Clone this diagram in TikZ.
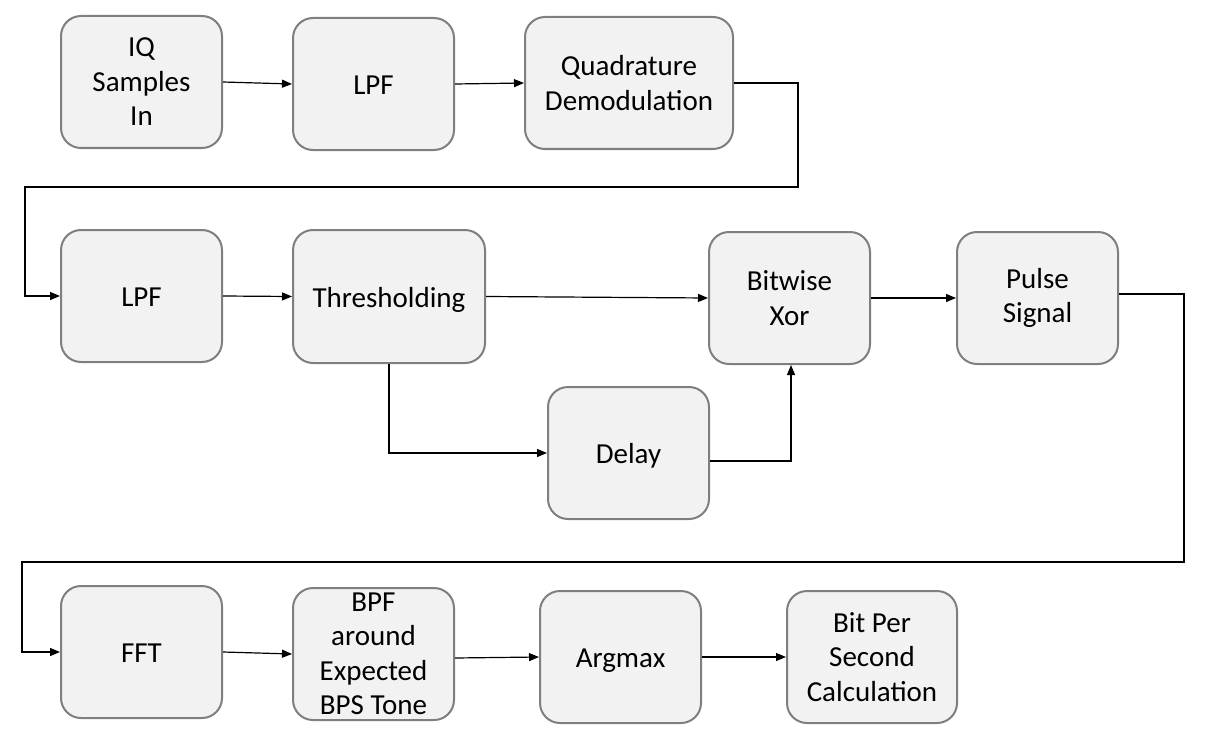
\documentclass[tikz,border=0pt]{standalone}
\usepackage{fontspec}
\setmainfont{Carlito}
\usetikzlibrary{arrows.meta,calc}
\definecolor{boxfill}{HTML}{F2F2F2}
\definecolor{boxline}{HTML}{7F7F7F}
\tikzset{
  blk/.style={draw=boxline, fill=boxfill, line width=2pt, rounded corners=20pt,
    minimum width=161pt, minimum height=132pt, inner sep=0pt, align=center,
    font=\fontsize{29}{34.5}\selectfont},
  oneline/.style={text height=21pt, text depth=0pt},
  conn/.style={draw=black, line width=1.2pt, -{Triangle[length=10pt,width=8pt]}},
}
\begin{document}
\begin{tikzpicture}[x=1pt,y=-1pt]
\useasboundingbox (0,0) rectangle (1215,749);
\node[blk] (iq) at (141.5,82) {IQ\\Samples\\In};
\node[blk, oneline] (lpf1) at (373.5,84) {LPF};
\node[blk, minimum width=208pt] (qd) at (629,83) {Quadrature\\Demodulation};
\node[blk, oneline] (lpf2) at (141.5,296) {LPF};
\node[blk, oneline, minimum width=192pt, minimum height=133pt] (thr) at (389,296.5) {Thresholding};
\node[blk] (xor) at (789.5,298) {Bitwise\\Xor};
\node[blk] (pulse) at (1037.5,298) {Pulse\\Signal};
\node[blk, oneline] (delay) at (628.5,453) {Delay};
\node[blk, oneline] (fft) at (141.5,652) {FFT};
\node[blk] (bpf) at (373.5,654) {BPF\\around\\Expected\\BPS Tone};
\node[blk, oneline] (argmax) at (620.5,657) {Argmax};
\node[blk, minimum width=170pt] (bps) at (872,657) {Bit Per\\Second\\Calculation};
\coordinate (k1) at (798,187);
\coordinate (k2) at (25,187);
\coordinate (k3) at (1184,562);
\coordinate (k4) at (22,562);
\draw[conn] (iq.east) -- (lpf1.west);
\draw[conn] (lpf1.east) -- (qd.west);
\draw[conn] (qd.east) -| (k1) -- (k2) |- (lpf2.west);
\draw[conn] (lpf2.east) -- (thr.west);
\draw[conn] (thr.east) -- (xor.west);
\draw[conn] (xor.east) -- (pulse.west);
\draw[conn] (thr.south) |- (delay.west);
\draw[conn] ([yshift=-8pt]delay.east) -| ([xshift=1.5pt]xor.south);
\draw[conn] ([yshift=4pt]pulse.east) -| (k3) -- (k4) |- (fft.west);
\draw[conn] (fft.east) -- (bpf.west);
\draw[conn] ([yshift=-4pt]bpf.east) -- (argmax.west);
\draw[conn] (argmax.east) -- (bps.west);
\end{tikzpicture}
\end{document}
